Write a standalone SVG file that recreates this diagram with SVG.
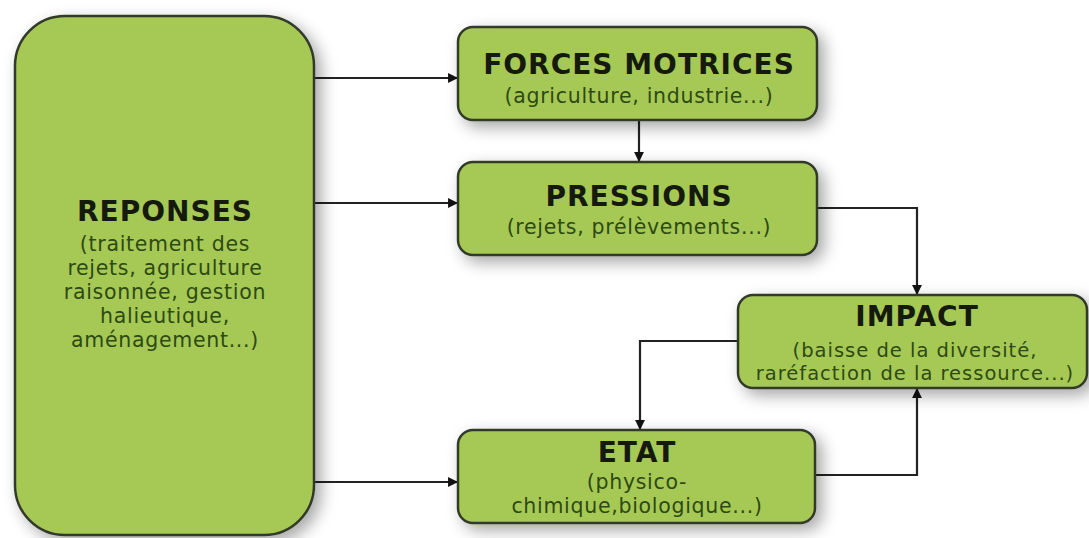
<svg xmlns="http://www.w3.org/2000/svg" width="1089" height="538" viewBox="0 0 1089 538">
<style>
.box{fill:#a6c957;stroke:#333a2a;stroke-width:2.5}
.t{font-family:"DejaVu Sans",Verdana,sans-serif;font-weight:bold;font-size:28px;letter-spacing:1px;fill:#151a0c;text-anchor:middle}
.s{font-family:"DejaVu Sans",Verdana,sans-serif;font-size:20.5px;letter-spacing:0.7px;fill:#2e4a12;text-anchor:middle}
.si{font-size:19.5px;letter-spacing:1px}
.c{fill:none;stroke:#222;stroke-width:2.2}
</style>
<defs>
<filter id="sh" x="-20%" y="-20%" width="150%" height="150%">
<feDropShadow dx="6" dy="6" stdDeviation="8" flood-color="#000" flood-opacity="0.35"/>
</filter>
<marker id="ah" viewBox="0 0 10 10" refX="9" refY="5" markerWidth="4.5" markerHeight="4.5" orient="auto">
<path d="M0,0 L10,5 L0,10 z" fill="#111"/>
</marker>
</defs>
<rect width="1089" height="538" fill="#ffffff"/>
<g id="connectors">
<path class="c" d="M314,78 H457" marker-end="url(#ah)"/>
<path class="c" d="M314,203 H457" marker-end="url(#ah)"/>
<path class="c" d="M314,482 H457" marker-end="url(#ah)"/>
<path class="c" d="M639,120 V161" marker-end="url(#ah)"/>
<path class="c" d="M817,208 H917 V294" marker-end="url(#ah)"/>
<path class="c" d="M738,341 H640 V429" marker-end="url(#ah)"/>
<path class="c" d="M815,475 H917 V389" marker-end="url(#ah)"/>
</g>
<g id="reponses">
<rect class="box" x="15" y="16" width="299" height="519" rx="50" filter="url(#sh)"/>
<text class="t" x="165" y="221">REPONSES</text>
<text class="s" x="165" y="251">(traitement des</text>
<text class="s" x="165" y="275">rejets, agriculture</text>
<text class="s" x="165" y="299">raisonnée, gestion</text>
<text class="s" x="165" y="323">halieutique,</text>
<text class="s" x="165" y="347">aménagement...)</text>
</g>
<g id="forces">
<rect class="box" x="458" y="27" width="359" height="93" rx="15" filter="url(#sh)"/>
<text class="t" x="639" y="74">FORCES MOTRICES</text>
<text class="s" x="639" y="103">(agriculture, industrie...)</text>
</g>
<g id="pressions">
<rect class="box" x="458" y="162" width="359" height="93" rx="15" filter="url(#sh)"/>
<text class="t" x="639" y="206">PRESSIONS</text>
<text class="s" x="639" y="234">(rejets, prélèvements...)</text>
</g>
<g id="impact">
<rect class="box" x="738" y="295" width="349" height="93" rx="15" filter="url(#sh)"/>
<text class="t" x="917" y="326">IMPACT</text>
<text class="s si" x="915" y="357">(baisse de la diversité,</text>
<text class="s si" x="915" y="380">raréfaction de la ressource...)</text>
</g>
<g id="etat">
<rect class="box" x="458" y="430" width="357" height="93" rx="15" filter="url(#sh)"/>
<text class="t" x="637" y="462">ETAT</text>
<text class="s" x="637" y="489">(physico-</text>
<text class="s" x="637" y="513">chimique,biologique...)</text>
</g>
</svg>
